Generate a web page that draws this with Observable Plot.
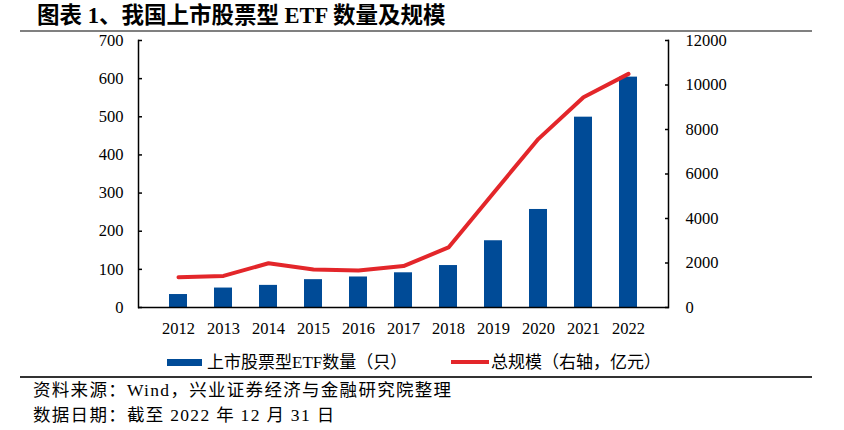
<!DOCTYPE html>
<html><head><meta charset="utf-8">
<script src="https://cdn.jsdelivr.net/npm/d3@7"></script>
<script src="https://cdn.jsdelivr.net/npm/@observablehq/plot@0.6"></script>
<style>
body{margin:0;width:844px;height:430px;background:#fff;position:relative;overflow:hidden;font-family:"Liberation Serif","Noto Sans CJK SC",serif;color:#000}
.abs{position:absolute;white-space:nowrap;line-height:1}
#title{left:37px;top:5px;font-size:22.5px;font-weight:bold}
#rule1{left:20px;top:30px;width:792px;height:2px;background:#808080}
#chart{left:0;top:33px}
#rule2{left:20px;top:376px;width:792px;height:1.5px;background:#333}
.lg{font-size:17px;top:354px}
.note{left:33px;font-size:17.5px;letter-spacing:1.3px}
</style></head>
<body>
<div id="title" class="abs">图表 1、我国上市股票型 ETF 数量及规模</div>
<div id="rule1" class="abs"></div>
<div id="chart" class="abs"></div>
<div class="abs" style="left:167px;top:359px;width:35px;height:7px;background:#004b97"></div>
<div class="abs lg" style="left:207px">上市股票型ETF数量（只）</div>
<div class="abs" style="left:451px;top:360px;width:38px;height:4px;background:#e3262a"></div>
<div class="abs lg" style="left:491px">总规模（右轴，亿元）</div>
<div id="rule2" class="abs"></div>
<div class="abs note" style="top:382px">资料来源：Wind，兴业证券经济与金融研究院整理</div>
<div class="abs note" style="top:407px">数据日期：截至 2022 年 12 月 31 日</div>
<script>
const years = ["2012","2013","2014","2015","2016","2017","2018","2019","2020","2021","2022"];
const etfCount = [34, 51, 58, 73, 80, 91, 110, 175, 257, 499, 604];
const totalSize = [1360, 1420, 1990, 1710, 1660, 1860, 2700, 5150, 7580, 9450, 10500];
const leftTicks = [0, 100, 200, 300, 400, 500, 600, 700];
const rightTicks = [0, 2000, 4000, 6000, 8000, 10000, 12000];

const k = 700 / 12000;
const data = years.map((y, i) => ({year: y, count: etfCount[i], size: totalSize[i]}));

const chart = Plot.plot({
  width: 844, height: 309,
  marginLeft: 138, marginRight: 176, marginTop: 7, marginBottom: 35,
  x: {type: "band", domain: years, padding: 0.6, label: null},
  y: {domain: [0, 700], label: null},
  style: {fontFamily: "Liberation Serif", fontSize: "16.5px", color: "#000", background: "transparent", overflow: "visible"},
  marks: [
    Plot.barY(data, {x: "year", y: "count", fill: "#004b97"}),
    Plot.line(data, {x: "year", y: d => d.size * k, stroke: "#e3262a", strokeWidth: 4}),
    Plot.ruleY([0], {stroke: "#000", strokeWidth: 1.5}),
    Plot.frame({anchor: "left", stroke: "#000", strokeWidth: 1.5}),
    Plot.frame({anchor: "right", stroke: "#000", strokeWidth: 1.5}),
    Plot.axisY(leftTicks, {anchor: "left", label: null, tickSize: -4, tickPadding: 19, strokeWidth: 1.5, tickFormat: d => String(d)}),
    Plot.axisY(rightTicks.map(v => v * k), {anchor: "right", label: null, tickSize: -4, tickPadding: 21, strokeWidth: 1.5, tickFormat: d => String(Math.round(d / k))}),
    Plot.axisX({anchor: "bottom", label: null, tickSize: 0, tickPadding: 15})
  ]
});
document.getElementById("chart").appendChild(chart);
</script>
</body></html>
